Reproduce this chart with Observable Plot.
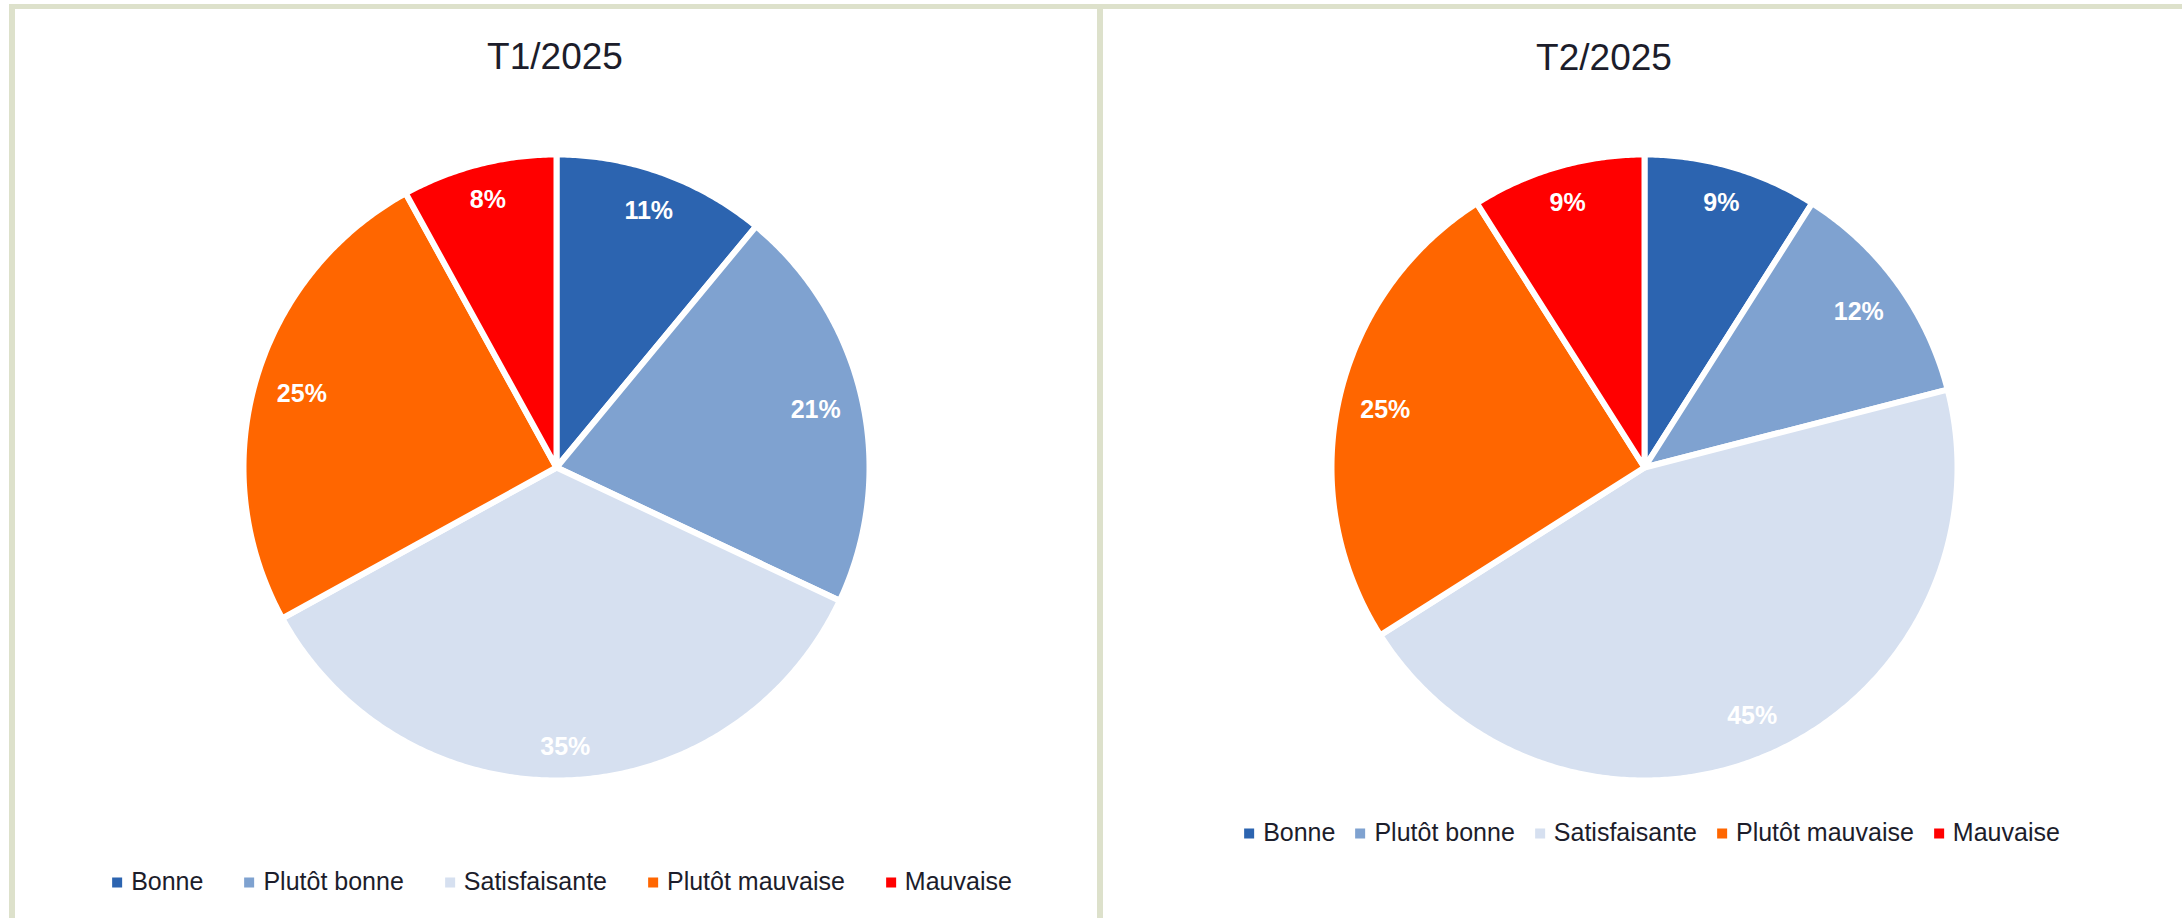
<!DOCTYPE html>
<html>
<head>
<meta charset="utf-8">
<script src="https://cdn.jsdelivr.net/npm/d3@7"></script>
<script src="https://cdn.jsdelivr.net/npm/@observablehq/plot@0.6"></script>
<style>
  html, body { margin: 0; padding: 0; background: #ffffff; }
  #root { position: relative; width: 2182px; height: 918px; overflow: hidden; background: #fff;
          font-family: "Liberation Sans", Arial, sans-serif; color: #1c1d2b; }
  .panel { position: absolute; box-sizing: border-box; border-top: 5px solid #dde1cb; border-left: 6px solid #dde1cb; }
  .title { position: absolute; transform: translate(-50%, -50%); font-size: 37px; white-space: nowrap; }
  .pie { position: absolute; }
  .legend { position: absolute; transform: translate(-50%, -50%); display: flex; align-items: center; white-space: nowrap; font-size: 25px; }
  .legend .item { display: flex; align-items: center; }
  .legend .sw { width: 10px; height: 10px; margin-right: 9px; margin-top: 3px; }
</style>
</head>
<body>
<div id="root"></div>
<script>
// ---- data ----
const categories = ["Bonne", "Plutôt bonne", "Satisfaisante", "Plutôt mauvaise", "Mauvaise"];
const colors = ["#2C64B0", "#7FA2D0", "#D6E0F0", "#FF6600", "#FF0000"];
const t1Values = [11, 21, 35, 25, 8];
const t2Values = [9, 12, 45, 25, 9];
const titles = ["T1/2025", "T2/2025"];

// ---- layout ----
const root = document.getElementById("root");
const R = 313, PAD = 20, SIZE = 2 * R + 2 * PAD;
const panels = [
  {left: 9, width: 1088, title: titles[0], values: t1Values, cx: 556, cy: 467, tx: 555, ty: 57, lx: 562, ly: 881, gap: 41},
  {left: 1097, width: 1090, title: titles[1], values: t2Values, cx: 1644, cy: 467, tx: 1604, ty: 58, lx: 1652, ly: 832, gap: 20}
];

function circlePoly(n) {
  const ring = [];
  for (let i = 0; i <= n; i++) {
    const t = (i / n) * 2 * Math.PI;
    ring.push([Math.sin(t), -Math.cos(t)]);
  }
  return {type: "Polygon", coordinates: [ring]};
}

function pieFeatures(values) {
  const total = d3.sum(values);
  let acc = 0;
  return values.map((v, i) => {
    const a0 = (acc / total) * 2 * Math.PI;
    acc += v;
    const a1 = (acc / total) * 2 * Math.PI;
    const ring = [[0, 0]];
    const steps = Math.max(2, Math.ceil((a1 - a0) / (Math.PI / 360)));
    for (let k = 0; k <= steps; k++) {
      const t = a0 + (a1 - a0) * k / steps;
      ring.push([Math.sin(t), -Math.cos(t)]);
    }
    ring.push([0, 0]);
    return {type: "Feature", properties: {cat: categories[i], value: v, mid: (a0 + a1) / 2},
            geometry: {type: "Polygon", coordinates: [ring]}};
  });
}

function labelPoints(features) {
  const rVis = (R - 3) / R;
  return features.map(f => {
    const t = f.properties.mid;
    const txt = f.properties.value + "%";
    const hw = (txt.length === 2 ? 19.5 : 26.5) / R;
    const hh = 14 / R;
    const ext = hw * Math.abs(Math.sin(t)) + hh * Math.abs(Math.cos(t));
    const d = rVis * 0.95 - ext;
    return {x: d * Math.sin(t), y: -d * Math.cos(t), text: txt};
  });
}

panels.forEach(p => {
  const panel = document.createElement("div");
  panel.className = "panel";
  panel.style.left = p.left + "px";
  panel.style.top = "4px";
  panel.style.width = p.width + "px";
  panel.style.height = "920px";
  root.appendChild(panel);

  const title = document.createElement("div");
  title.className = "title";
  title.textContent = p.title;
  title.style.left = p.tx + "px";
  title.style.top = p.ty + "px";
  root.appendChild(title);

  const feats = pieFeatures(p.values);
  const chart = Plot.plot({
    width: SIZE,
    height: SIZE,
    margin: 0,
    projection: {type: "identity", domain: circlePoly(360), inset: PAD},
    color: {domain: categories, range: colors},
    style: {fontFamily: "\"Liberation Sans\", Arial, sans-serif", background: "transparent", overflow: "visible"},
    marks: [
      Plot.geo(feats, {fill: d => d.properties.cat, stroke: "white", strokeWidth: 6, strokeLinejoin: "round"}),
      Plot.text(labelPoints(feats), {x: "x", y: "y", text: "text", fill: "white", fontSize: 25, fontWeight: "bold"})
    ]
  });
  const wrap = document.createElement("div");
  wrap.className = "pie";
  wrap.style.left = (p.cx - SIZE / 2) + "px";
  wrap.style.top = (p.cy - SIZE / 2) + "px";
  wrap.appendChild(chart);
  root.appendChild(wrap);

  const legend = document.createElement("div");
  legend.className = "legend";
  legend.style.left = p.lx + "px";
  legend.style.top = p.ly + "px";
  legend.style.gap = p.gap + "px";
  categories.forEach((c, i) => {
    const item = document.createElement("div");
    item.className = "item";
    const sw = document.createElement("span");
    sw.className = "sw";
    sw.style.background = colors[i];
    const tx = document.createElement("span");
    tx.textContent = c;
    item.appendChild(sw);
    item.appendChild(tx);
    legend.appendChild(item);
  });
  root.appendChild(legend);
});
</script>
</body>
</html>
